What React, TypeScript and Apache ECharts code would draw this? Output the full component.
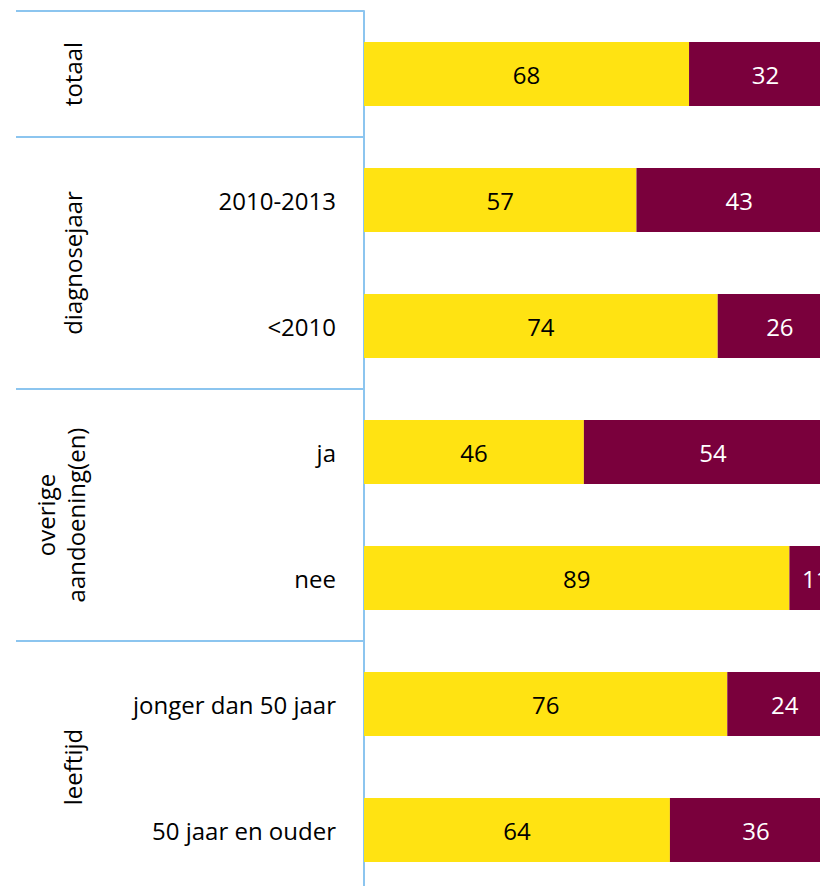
import React, { useEffect, useRef } from "react";
import * as echarts from "echarts";

const categories = ["totaal", "2010-2013", "<2010", "ja", "nee", "jonger dan 50 jaar", "50 jaar en ouder"];
const categoryLabels = ["", "2010-2013", "<2010", "ja", "nee", "jonger dan 50 jaar", "50 jaar en ouder"];
const yesValues = [68, 57, 74, 46, 89, 76, 64];
const noValues = [32, 43, 26, 54, 11, 24, 36];
const groups = [
  { name: "totaal", from: 0, to: 0 },
  { name: "diagnosejaar", from: 1, to: 2 },
  { name: "overige\naandoening(en)", from: 3, to: 4 },
  { name: "leeftijd", from: 5, to: 6 },
];

const FONT = "'Open Sans', 'Noto Sans', sans-serif";
const FS = 24;
const YELLOW = "#FFE312";
const MAROON = "#7A003C";
const BLUE = "#8CC5EF";

export default function App() {
  const ref = useRef<HTMLDivElement>(null);
  useEffect(() => {
    if (!ref.current) return;
    const chart = echarts.init(ref.current, undefined, { renderer: "svg" });
    chart.setOption({
      animation: false,
      textStyle: { fontFamily: FONT },
      grid: { left: 364, top: 11, width: 478, height: 882 },
      xAxis: { type: "value", min: 0, max: 100, show: false },
      yAxis: {
        type: "category",
        data: categories,
        inverse: true,
        axisLine: { show: true, lineStyle: { color: BLUE, width: 2 } },
        axisTick: { show: false },
        axisLabel: {
          fontSize: FS,
          color: "#000",
          margin: 28,
          fontFamily: FONT,
          formatter: (_v: string, i: number) => categoryLabels[i],
        },
      },
      series: [
        {
          type: "bar",
          stack: "t",
          data: yesValues,
          barWidth: 64,
          itemStyle: { color: YELLOW },
          label: { show: true, position: "inside", color: "#000", fontSize: FS, fontFamily: FONT },
        },
        {
          type: "bar",
          stack: "t",
          data: noValues,
          barWidth: 64,
          itemStyle: { color: MAROON },
          label: { show: true, position: "inside", color: "#fff", fontSize: FS, fontFamily: FONT },
        },
      ],
    });
    const c0 = chart.convertToPixel({ yAxisIndex: 0 }, categories[0]) as number;
    const c1 = chart.convertToPixel({ yAxisIndex: 0 }, categories[1]) as number;
    const band = c1 - c0;
    const axisX = chart.convertToPixel({ xAxisIndex: 0 }, 0) as number;
    const elements: any[] = [];
    const boundaries = new Set<number>();
    groups.forEach((g) => {
      boundaries.add(g.from);
      boundaries.add(g.to + 1);
      const mid = c0 + band * ((g.from + g.to) / 2);
      const twoLine = g.name.indexOf("\n") >= 0;
      elements.push({
        type: "text",
        x: twoLine ? 60 : 72,
        y: mid,
        rotation: Math.PI / 2,
        style: {
          text: g.name,
          fontSize: FS,
          fontFamily: FONT,
          fill: "#000",
          align: "center",
          verticalAlign: "middle",
          lineHeight: 30,
        },
      });
    });
    boundaries.forEach((b) => {
      const y = c0 - band / 2 + b * band;
      elements.push({
        type: "line",
        shape: { x1: 16, y1: y, x2: axisX, y2: y },
        style: { stroke: BLUE, lineWidth: 2 },
      });
    });
    chart.setOption({ graphic: { elements } });
    return () => chart.dispose();
  }, []);
  return (
    <div style={{ position: "fixed", left: 0, top: 0, width: 820, height: 886, overflow: "hidden", background: "#fff" }}>
      <div ref={ref} style={{ width: 860, height: 900 }} />
    </div>
  );
}
